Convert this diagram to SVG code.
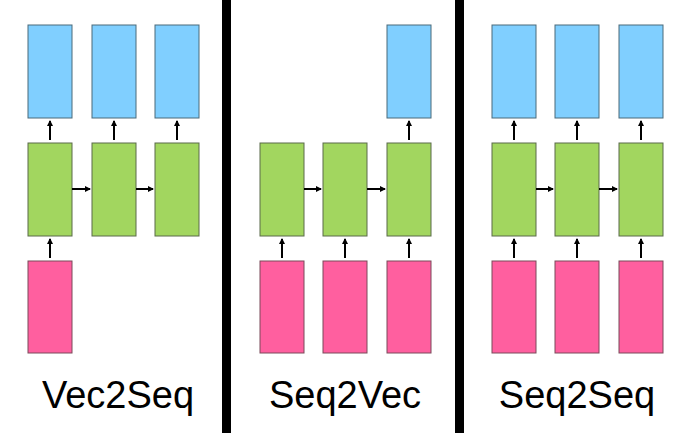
<svg xmlns="http://www.w3.org/2000/svg" width="696" height="433" viewBox="0 0 696 433">
<style>
.b{fill:#80cfff;stroke:#4a6a7a;stroke-width:1}
.g{fill:#a2d65f;stroke:#5a6a4a;stroke-width:1}
.p{fill:#ff5f9f;stroke:#7a4a5a;stroke-width:1}
.c line{stroke:#000;stroke-width:2;marker-end:url(#a)}
text{font-family:"Liberation Sans",Arial,sans-serif;font-size:38px;text-anchor:middle;fill:#000}
</style>
<defs><marker id="a" viewBox="0 0 6 6" refX="5" refY="3" markerWidth="3" markerHeight="3" orient="auto"><path d="M0,0L6,3L0,6z" fill="#000"/></marker></defs>
<rect width="696" height="433" fill="#fff"/>
<rect x="222" y="0" width="9" height="433" fill="#000"/>
<rect x="455" y="0" width="9" height="433" fill="#000"/>
<g id="p1">
<rect id="b1" class="b" x="28" y="25" width="44" height="93"/>
<rect id="b2" class="b" x="92" y="25" width="44" height="93"/>
<rect id="b3" class="b" x="155" y="25" width="44" height="93"/>
<rect id="g1" class="g" x="28" y="143" width="44" height="93"/>
<rect id="g2" class="g" x="92" y="143" width="44" height="93"/>
<rect id="g3" class="g" x="155" y="143" width="44" height="93"/>
<rect id="r1" class="p" x="28" y="261" width="44" height="92"/>
<text x="118" y="408">Vec2Seq</text>
</g>
<g id="p2">
<rect id="b6" class="b" x="387" y="25" width="44" height="93"/>
<rect id="g4" class="g" x="260" y="143" width="44" height="93"/>
<rect id="g5" class="g" x="323" y="143" width="44" height="93"/>
<rect id="g6" class="g" x="387" y="143" width="44" height="93"/>
<rect id="r4" class="p" x="260" y="261" width="44" height="92"/>
<rect id="r5" class="p" x="323" y="261" width="44" height="92"/>
<rect id="r6" class="p" x="387" y="261" width="44" height="92"/>
<text x="345" y="408">Seq2Vec</text>
</g>
<g id="p3">
<rect id="b7" class="b" x="492" y="25" width="44" height="93"/>
<rect id="b8" class="b" x="555" y="25" width="44" height="93"/>
<rect id="b9" class="b" x="619" y="25" width="44" height="93"/>
<rect id="g7" class="g" x="492" y="143" width="44" height="93"/>
<rect id="g8" class="g" x="555" y="143" width="44" height="93"/>
<rect id="g9" class="g" x="619" y="143" width="44" height="93"/>
<rect id="r7" class="p" x="492" y="261" width="44" height="92"/>
<rect id="r8" class="p" x="555" y="261" width="44" height="92"/>
<rect id="r9" class="p" x="619" y="261" width="44" height="92"/>
<text x="577" y="408">Seq2Seq</text>
</g>
<g class="c">
<line x1="50" y1="140" x2="50" y2="121"/><line x1="114" y1="140" x2="114" y2="121"/><line x1="177" y1="140" x2="177" y2="121"/>
<line x1="72" y1="189" x2="90" y2="189"/><line x1="136" y1="189" x2="153" y2="189"/>
<line x1="50" y1="258" x2="50" y2="239"/>
<line x1="409" y1="140" x2="409" y2="121"/>
<line x1="304" y1="189" x2="321" y2="189"/><line x1="367" y1="189" x2="385" y2="189"/>
<line x1="282" y1="258" x2="282" y2="239"/><line x1="345" y1="258" x2="345" y2="239"/><line x1="409" y1="258" x2="409" y2="239"/>
<line x1="514" y1="140" x2="514" y2="121"/><line x1="577" y1="140" x2="577" y2="121"/><line x1="641" y1="140" x2="641" y2="121"/>
<line x1="536" y1="189" x2="553" y2="189"/><line x1="599" y1="189" x2="617" y2="189"/>
<line x1="514" y1="258" x2="514" y2="239"/><line x1="577" y1="258" x2="577" y2="239"/><line x1="641" y1="258" x2="641" y2="239"/>
</g>
</svg>
